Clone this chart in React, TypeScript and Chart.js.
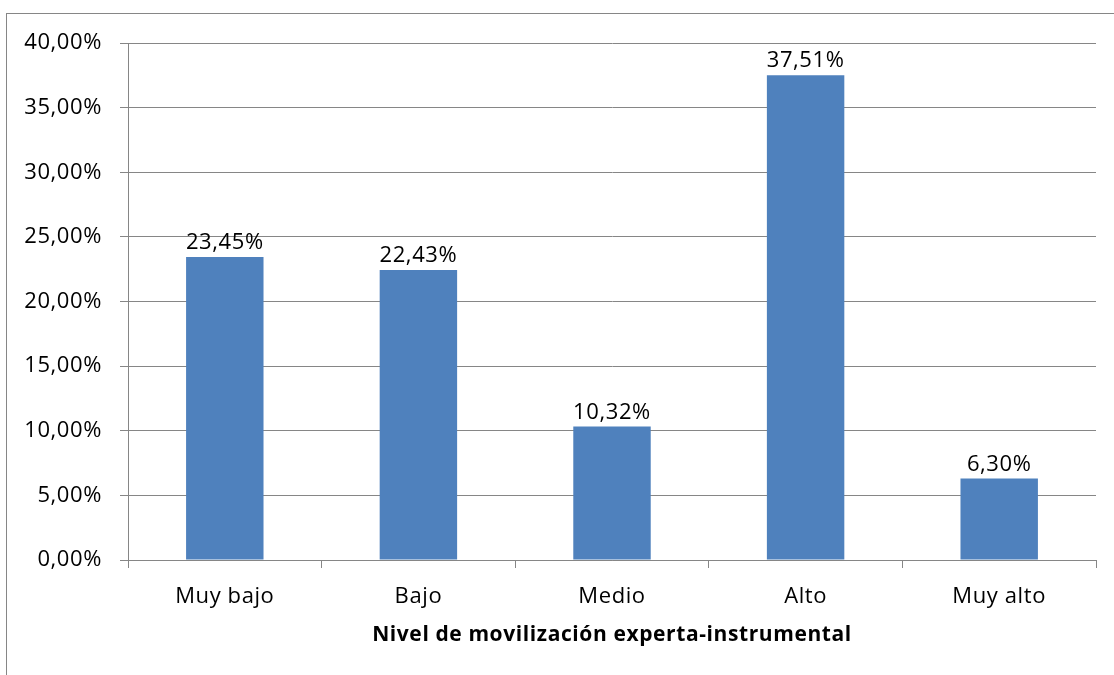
import React, { useEffect, useRef } from "react";
import { Chart, registerables } from "chart.js";

Chart.register(...registerables);

const categories = ["Muy bajo", "Bajo", "Medio", "Alto", "Muy alto"];
const values = [23.45, 22.43, 10.32, 37.51, 6.3];
const axisTitle = "Nivel de movilización experta-instrumental";
const yMin = 0;
const yMax = 40;
const yStep = 5;

const FONT = "'Open Sans', 'Noto Sans', sans-serif";
const GRID = "#868686";
const SPACING = "0.6px";

const fmt = (v: number) => v.toFixed(2).replace(".", ",") + "%";

const spacing = {
  id: "spacing",
  beforeUpdate(chart: any) {
    chart.ctx.letterSpacing = SPACING;
  },
  beforeLayout(chart: any) {
    chart.ctx.letterSpacing = SPACING;
  },
  beforeDraw(chart: any) {
    chart.ctx.letterSpacing = SPACING;
  },
};

const dataLabels = {
  id: "dataLabels",
  afterDatasetsDraw(chart: any) {
    const ctx = chart.ctx;
    const meta = chart.getDatasetMeta(0);
    ctx.save();
    ctx.letterSpacing = SPACING;
    ctx.font = `22px ${FONT}`;
    ctx.fillStyle = "#000";
    ctx.textAlign = "center";
    ctx.textBaseline = "alphabetic";
    meta.data.forEach((bar: any, i: number) => {
      ctx.fillText(fmt(values[i]), bar.x, bar.y - 8);
    });
    ctx.restore();
  },
};

export default function App() {
  const ref = useRef<HTMLCanvasElement>(null);
  useEffect(() => {
    if (!ref.current) return;
    const chart = new Chart(ref.current, {
      type: "bar",
      data: {
        labels: categories,
        datasets: [
          {
            data: values,
            backgroundColor: "#4F81BD",
            barPercentage: 0.4,
            categoryPercentage: 1.0,
          },
        ],
      },
      options: {
        responsive: false,
        animation: false,
        devicePixelRatio: 1,
        layout: { padding: { top: 43, left: 0, right: 18, bottom: 0 } },
        plugins: { legend: { display: false }, tooltip: { enabled: false } },
        scales: {
          x: {
            grid: {
              display: true,
              drawOnChartArea: false,
              drawTicks: true,
              tickLength: 8,
              color: GRID,
              offset: true,
            },
            border: { display: true, color: GRID, width: 1 },
            ticks: { color: "#000", font: { family: FONT, size: 22 }, padding: 16 },
            title: {
              display: true,
              text: axisTitle,
              color: "#000",
              font: { family: FONT, size: 21, weight: "bold" },
              padding: { top: 4, bottom: 27 },
            },
            afterFit: (axis: any) => {
              axis.height = 115;
            },
          },
          y: {
            min: yMin,
            max: yMax,
            ticks: {
              stepSize: yStep,
              color: "#000",
              font: { family: FONT, size: 22 },
              padding: 18,
              callback: (v: any) => fmt(Number(v)),
            },
            grid: { color: GRID, tickLength: 8, drawTicks: true },
            border: { display: true, color: GRID, width: 1 },
            afterFit: (axis: any) => {
              axis.width = 128;
            },
          },
        },
      },
      plugins: [spacing, dataLabels],
    });
    return () => chart.destroy();
  }, []);

  return (
    <div
      style={{
        position: "fixed",
        left: 0,
        top: 0,
        width: 1114,
        height: 675,
        overflow: "hidden",
        background: "#fff",
      }}
    >
      <div
        style={{
          position: "absolute",
          left: 6,
          top: 13,
          width: 1300,
          height: 900,
          border: "1px solid #868686",
        }}
      />
      <canvas
        ref={ref}
        width={1114}
        height={675}
        style={{ position: "absolute", left: 0, top: 0, width: 1114, height: 675 }}
      />
    </div>
  );
}
